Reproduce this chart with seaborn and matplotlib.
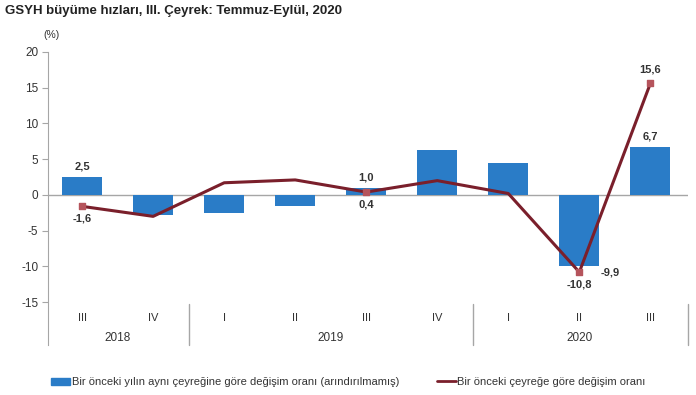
import matplotlib
matplotlib.use("Agg")
import matplotlib.pyplot as plt
import matplotlib.patches as mpatches
import matplotlib.lines as mlines
import numpy as np
import pandas as pd
import seaborn as sns

quarters = ["III", "IV", "I", "II", "III", "IV", "I", "II", "III"]
years = ["2018", "2019", "2020"]
year_span = [(0, 1), (2, 5), (6, 8)]
yoy = [2.5, -2.8, -2.5, -1.6, 1.0, 6.3, 4.5, -9.9, 6.7]
qoq = [-1.6, -3.0, 1.7, 2.1, 0.4, 2.0, 0.2, -10.8, 15.6]
yoy_labels = {0: "2,5", 4: "1,0", 7: "-9,9", 8: "6,7"}
qoq_labels = {0: "-1,6", 4: "0,4", 7: "-10,8", 8: "15,6"}

bar_name = "Bir önceki yılın aynı çeyreğine göre değişim oranı (arındırılmamış)"
line_name = "Bir önceki çeyreğe göre değişim oranı"

df = pd.DataFrame({"pos": range(len(quarters)), "yoy": yoy, "qoq": qoq})

sns.set_style("white")
plt.rcParams["font.family"] = ["Liberation Sans", "DejaVu Sans"]
plt.rcParams["axes.unicode_minus"] = False

bar_col = "#2a7cc7"
line_col = "#7a1f2b"
mark_col = "#b5545c"
txt_col = "#333333"
grey = "#a6a6a6"

fig = plt.figure(figsize=(6.96, 3.95), dpi=100)
ax = fig.add_axes([48 / 696, 1 - 345 / 395, 640 / 696, 293 / 395])

sns.barplot(data=df, x="pos", y="yoy", color=bar_col, width=0.56,
            saturation=1, linewidth=0, ax=ax, zorder=2)
sns.lineplot(data=df, x="pos", y="qoq", color=line_col, lw=2.2, ax=ax, zorder=3)

# markers only on labelled points
idx = list(qoq_labels.keys())
ax.scatter(idx, [qoq[i] for i in idx], marker="s", s=18, color=mark_col, zorder=4)

ax.set_xlim(-0.48, 8.53)
ax.set_ylim(-21, 20)
ax.set_yticks([-15, -10, -5, 0, 5, 10, 15, 20])
ax.set_xticks([])
ax.set_xlabel("")
ax.set_ylabel("")
ax.axhline(0, color=grey, lw=1, zorder=1)

for s in ["top", "right", "bottom"]:
    ax.spines[s].set_visible(False)
ax.spines["left"].set_color(grey)
ax.tick_params(axis="y", length=4, color=grey, labelsize=8.5, labelcolor=txt_col, pad=3, direction="out", left=True)

# value labels
fs = 8
for i, t in yoy_labels.items():
    if i == 7:
        ax.text(i + 0.3, yoy[i] - 0.3, t, ha="left", va="top", fontsize=fs, weight="bold", color=txt_col)
    else:
        ax.text(i, yoy[i] + 0.8, t, ha="center", va="bottom", fontsize=fs, weight="bold", color=txt_col)
for i, t in qoq_labels.items():
    if i == 8:
        ax.text(i, qoq[i] + 1.2, t, ha="center", va="bottom", fontsize=fs, weight="bold", color=txt_col)
    else:
        ax.text(i, qoq[i] - 1.0, t, ha="center", va="top", fontsize=fs, weight="bold", color=txt_col)

# category axis
for i, q in enumerate(quarters):
    ax.text(i, -17.2, q, ha="center", va="center", fontsize=8, color=txt_col)
for y, (a, b) in zip(years, year_span):
    ax.text((a + b) / 2, -20.0, y, ha="center", va="center", fontsize=8.5, color=txt_col)
for b in [1.5, 5.5, 8.53]:
    ax.plot([b, b], [-15.2, -21], color=grey, lw=1, clip_on=False)

fig.text(5 / 696, 1 - 11 / 395, "GSYH büyüme hızları, III. Çeyrek: Temmuz-Eylül, 2020",
         fontsize=9.5, weight="bold", color="#222222", va="center")
fig.text(43 / 696, 1 - 35 / 395, "(%)", fontsize=7.5, color=txt_col, va="center")

h1 = mpatches.Patch(color=bar_col, label=bar_name)
h2 = mlines.Line2D([], [], color=line_col, lw=2, label=line_name)
fig.legend(handles=[h1, h2], loc="center left", bbox_to_anchor=(51 / 696, 1 - 382 / 395), ncol=2,
           frameon=False, fontsize=8, handlelength=1.7, handleheight=0.6, handletextpad=0.15,
           columnspacing=3.4, borderpad=0, borderaxespad=0, labelcolor=txt_col)

fig.savefig("out.png", dpi=100)
